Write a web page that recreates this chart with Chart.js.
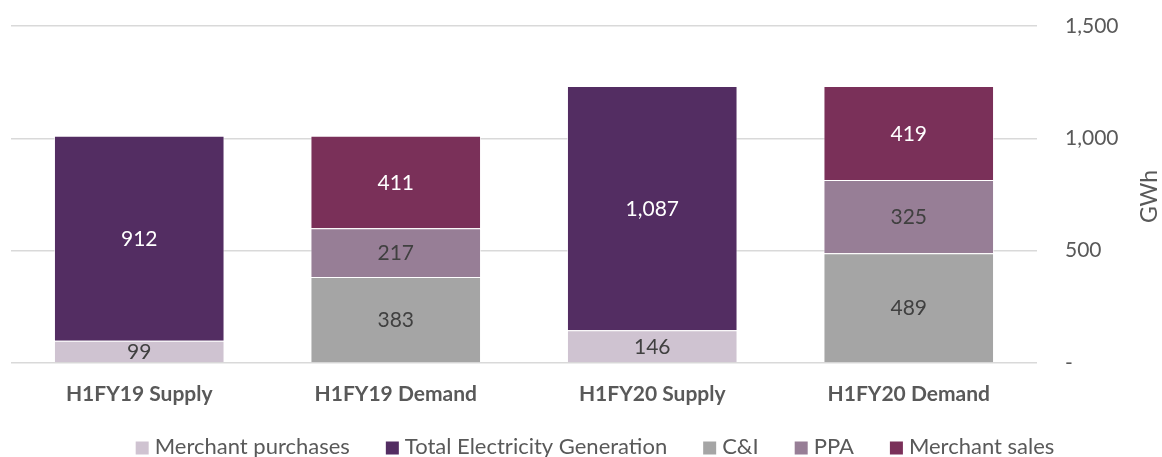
<!DOCTYPE html>
<html>
<head>
<meta charset="utf-8">
<script src="https://cdn.jsdelivr.net/npm/chart.js@4"></script>
<style>
  html, body { margin: 0; padding: 0; background: #fff; }
  #wrap { width: 1162px; height: 457px; }
</style>
</head>
<body>
<div id="wrap"><canvas id="chart"></canvas></div>
<script>
const categories = ["H1FY19 Supply", "H1FY19 Demand", "H1FY20 Supply", "H1FY20 Demand"];
const merchantPurchases = [99, null, 146, null];
const totalGeneration = [912, null, 1087, null];
const cAndI = [null, 383, null, 489];
const ppa = [null, 217, null, 325];
const merchantSales = [null, 411, null, 419];
const yTicks = [0, 500, 1000, 1500];

const FONT = "Lato, 'Noto Sans', sans-serif";
const GREY = "#595959";

// series: name, values, fill, label colour
const series = [
  ["Merchant purchases", merchantPurchases, "#CFC3D1", "#404040"],
  ["Total Electricity Generation", totalGeneration, "#532D62", "#FFFFFF"],
  ["C&I", cAndI, "#A5A5A5", "#404040"],
  ["PPA", ppa, "#977E96", "#404040"],
  ["Merchant sales", merchantSales, "#7A3059", "#FFFFFF"],
];

const barLabels = {
  id: "barLabels",
  afterDatasetsDraw(chart) {
    const ctx = chart.ctx;
    ctx.save();
    ctx.font = "21px " + FONT;
    ctx.textAlign = "center";
    ctx.textBaseline = "middle";
    chart.data.datasets.forEach((ds, i) => {
      chart.getDatasetMeta(i).data.forEach((bar, j) => {
        const v = ds.data[j];
        if (v == null) return;
        ctx.fillStyle = ds.labelColor;
        ctx.fillText(v.toLocaleString("en-US"), bar.x, (bar.y + bar.base) / 2 + 1);
      });
    });
    ctx.restore();
  }
};

// axis title reading bottom-to-top, plus an Excel-style legend along the bottom
const extras = {
  id: "extras",
  afterDraw(chart) {
    const ctx = chart.ctx;
    const y = chart.scales.y;
    ctx.save();
    ctx.translate(1150, (y.top + y.bottom) / 2 + 2);
    ctx.rotate(-Math.PI / 2);
    ctx.font = "23px " + FONT;
    ctx.fillStyle = GREY;
    ctx.textAlign = "center";
    ctx.textBaseline = "middle";
    ctx.fillText("GWh", 0, 0);
    ctx.restore();

    ctx.save();
    ctx.font = "22px " + FONT;
    ctx.textBaseline = "middle";
    const box = 13, gap = 6, spacing = 36;
    const items = chart.data.datasets.map(ds => ({
      text: ds.label, color: ds.backgroundColor, w: ctx.measureText(ds.label).width
    }));
    const total = items.reduce((s, it) => s + box + gap + it.w, 0) + spacing * (items.length - 1);
    let x = 595 - total / 2;
    const cy = 447;
    items.forEach(it => {
      ctx.fillStyle = it.color;
      ctx.fillRect(x, cy - box / 2 + 1, box, box);
      ctx.fillStyle = GREY;
      ctx.fillText(it.text, x + box + gap, cy);
      x += box + gap + it.w + spacing;
    });
    ctx.restore();
  }
};

new Chart(document.getElementById("chart"), {
  type: "bar",
  data: {
    labels: categories,
    datasets: series.map(([name, values, color, labelColor]) => ({
      label: name,
      data: values,
      backgroundColor: color,
      borderColor: "rgba(255,255,255,0.6)",
      borderWidth: 1,
      labelColor: labelColor,
      categoryPercentage: 1,
      barPercentage: 0.665,
      skipNull: true,
    })),
  },
  options: {
    responsive: true,
    maintainAspectRatio: false,
    animation: false,
    layout: { padding: { left: 11, top: 26, right: 0, bottom: 34 } },
    plugins: {
      legend: { display: false },
      tooltip: { enabled: false },
    },
    scales: {
      x: {
        stacked: true,
        grid: { display: false },
        border: { display: false },
        afterFit(axis) { axis.height = 60; },
        ticks: {
          font: { family: FONT, size: 21, weight: "bold" },
          color: GREY,
          padding: 11,
        },
      },
      y: {
        stacked: true,
        position: "right",
        min: 0,
        max: 1500,
        afterBuildTicks(axis) { axis.ticks = yTicks.map(v => ({ value: v })); },
        afterFit(axis) {
          axis.width = 125;
          axis.paddingTop = 0;
          axis.paddingBottom = 0;
        },
        grid: { color: "#D9D9D9", lineWidth: 1.5, drawTicks: false },
        border: { display: false },
        ticks: {
          font: { family: FONT, size: 21 },
          color: GREY,
          padding: 28,
          callback: v => v === 0 ? "-" : v.toLocaleString("en-US"),
        },
      },
    },
  },
  plugins: [barLabels, extras],
});
</script>
</body>
</html>
